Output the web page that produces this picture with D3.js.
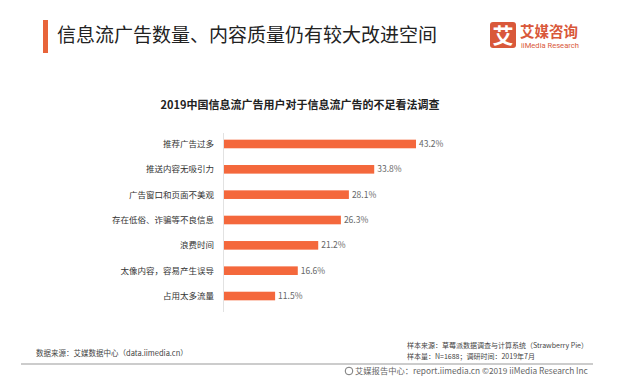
<!DOCTYPE html>
<html>
<head>
<meta charset="utf-8">
<script src="https://cdn.jsdelivr.net/npm/d3@7"></script>
<style>
  body { margin: 0; background: #fff; }
  svg { font-family: "Noto Sans CJK SC", "Noto Sans", sans-serif; }
</style>
</head>
<body>
<div id="chart"></div>
<script>
// data
const categories = [
  "推荐广告过多",
  "推送内容无吸引力",
  "广告窗口和页面不美观",
  "存在低俗、诈骗等不良信息",
  "浪费时间",
  "太像内容，容易产生误导",
  "占用太多流量"
];
const values = [43.2, 33.8, 28.1, 26.3, 21.2, 16.6, 11.5];

const pageTitle = "信息流广告数量、内容质量仍有较大改进空间";
const chartTitle = "2019中国信息流广告用户对于信息流广告的不足看法调查";
const sourceLeft = "数据来源：艾媒数据中心（data.iimedia.cn）";
const sampleLines = [
  "样本来源：草莓派数据调查与计算系统（Strawberry Pie）",
  "样本量：N=1688；调研时间：2019年7月"
];
const copyright = "艾媒报告中心：report.iimedia.cn  ©2019  iiMedia Research Inc";

const width = 640, height = 385;
const barColor = "#f4683c";

const svg = d3.select("#chart").append("svg")
  .attr("width", width)
  .attr("height", height);

// header
svg.append("rect").attr("x", 43).attr("y", 20).attr("width", 5).attr("height", 33)
  .attr("fill", "#e8643a");
svg.append("text").attr("x", 57).attr("y", 42)
  .attr("font-size", 19).attr("fill", "#222")
  .text(pageTitle);

// logo
const logo = svg.append("g");
logo.append("rect").attr("x", 490).attr("y", 22).attr("width", 26).attr("height", 26)
  .attr("rx", 3).attr("fill", "#d9583a");
logo.append("text").attr("x", 503).attr("y", 43).attr("text-anchor", "middle")
  .attr("font-size", 21).attr("font-weight", "bold").attr("fill", "#fff").text("艾");
logo.append("text").attr("x", 520).attr("y", 37)
  .attr("font-size", 14.5).attr("font-weight", "bold").attr("fill", "#d9583a")
  .text("艾媒咨询");
logo.append("text").attr("x", 521).attr("y", 47.5)
  .attr("font-size", 7.6).attr("fill", "#d9583a")
  .attr("font-family", "Roboto, sans-serif")
  .text("iiMedia Research");

// chart title
svg.append("text").attr("x", 300).attr("y", 109).attr("text-anchor", "middle")
  .attr("font-size", 11).attr("font-weight", "bold").attr("fill", "#222")
  .text(chartTitle);

// scales
const x = d3.scaleLinear().domain([0, 45]).range([224, 424]);
const y = d3.scaleBand().domain(categories).range([127, 313])
  .paddingInner(0.66).paddingOuter(0.5);

// axis line
svg.append("line").attr("x1", 223.5).attr("x2", 223.5).attr("y1", 133).attr("y2", 312)
  .attr("stroke", "#e2e2e2");

// category labels
svg.append("g").selectAll("text").data(categories).join("text")
  .attr("x", 214)
  .attr("y", d => y(d) + y.bandwidth() / 2)
  .attr("dy", "0.35em")
  .attr("text-anchor", "end")
  .attr("font-size", 8.5).attr("fill", "#333")
  .text(d => d);

// bars
svg.append("g").selectAll("rect").data(values).join("rect")
  .attr("x", x(0))
  .attr("y", (d, i) => y(categories[i]))
  .attr("width", d => x(d) - x(0))
  .attr("height", y.bandwidth())
  .attr("fill", barColor);

// value labels
svg.append("g").selectAll("text").data(values).join("text")
  .attr("x", d => x(d) + 3)
  .attr("y", (d, i) => y(categories[i]) + y.bandwidth() / 2)
  .attr("dy", "0.35em")
  .attr("font-size", 8.5).attr("fill", "#666")
  .text(d => d.toFixed(1) + "%");

// footer
svg.append("text").attr("x", 36).attr("y", 356)
  .attr("font-size", 7.5).attr("fill", "#444").text(sourceLeft);
svg.selectAll(".sample").data(sampleLines).join("text")
  .attr("class", "sample")
  .attr("x", 407).attr("y", (d, i) => 347.5 + i * 11.7)
  .attr("font-size", 7).attr("fill", "#444")
  .text(d => d);
svg.append("line").attr("x1", 21).attr("x2", 593).attr("y1", 364).attr("y2", 364)
  .attr("stroke", "#999").attr("stroke-width", 1);
svg.append("circle").attr("cx", 349).attr("cy", 371).attr("r", 3.8)
  .attr("fill", "none").attr("stroke", "#777").attr("stroke-width", 1);
svg.append("text").attr("x", 355).attr("y", 374)
  .attr("font-size", 8.3).attr("fill", "#666").text(copyright);
</script>
</body>
</html>
